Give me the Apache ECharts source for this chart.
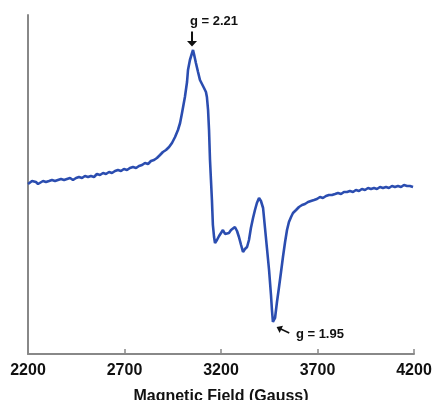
<!DOCTYPE html>
<html>
<head>
<meta charset="utf-8">
<script src="https://cdn.jsdelivr.net/npm/echarts@6/dist/echarts.min.js"></script>
<style>
  html, body { margin: 0; padding: 0; background: #fff; }
  #epr { width: 435px; height: 400px; }
</style>
</head>
<body>
<div id="epr"></div>
<script>
// magnetic field (Gauss) and EPR signal (arbitrary units)
const field = [
  2200, 2210, 2221, 2231, 2241, 2252, 2262, 2278, 2293, 2309, 2324, 2340, 2355, 2371, 2387,
  2402, 2418, 2433, 2449, 2464, 2480, 2495, 2511, 2526, 2542, 2557, 2573, 2589, 2604, 2620,
  2635, 2651, 2666, 2682, 2697, 2713, 2728, 2744, 2760, 2775, 2791, 2806, 2822, 2837, 2853,
  2868, 2884, 2899, 2915, 2931, 2946, 2962, 2977, 2988, 2998, 3013, 3024, 3029, 3039, 3050,
  3055, 3060, 3070, 3081, 3091, 3101, 3112, 3122, 3127, 3133, 3138, 3143, 3148, 3153, 3158,
  3164, 3169, 3179, 3190, 3200, 3210, 3221, 3231, 3241, 3252, 3262, 3272, 3283, 3293, 3304,
  3314, 3324, 3335, 3345, 3355, 3366, 3376, 3386, 3397, 3407, 3418, 3428, 3438, 3449, 3459,
  3464, 3469, 3480, 3490, 3500, 3511, 3521, 3532, 3542, 3552, 3563, 3573, 3589, 3604, 3620,
  3635, 3651, 3666, 3682, 3697, 3713, 3728, 3744, 3759, 3775, 3791, 3806, 3822, 3837, 3853,
  3868, 3884, 3899, 3915, 3930, 3946, 3962, 3977, 3993, 4008, 4024, 4039, 4055, 4070, 4086,
  4101, 4117, 4133, 4148, 4164, 4179, 4195
]
const signal = [
  1, 3, 4, 2, 3, 1, 3, 4, 3, 4, 5, 4, 5, 6, 5,
  6, 7, 5, 7, 8, 7, 9, 8, 9, 8, 11, 10, 12, 11, 13,
  12, 14, 15, 14, 16, 15, 17, 18, 17, 19, 20, 22, 21, 24, 25,
  27, 30, 33, 35, 38, 42, 48, 55, 62, 72, 88, 103, 115, 125, 132,
  135, 131, 122, 113, 105, 103, 97, 93, 88, 75, 55, 25, 5, -15, -40,
  -52, -58, -55, -51, -48, -45, -49, -51, -48, -45, -44, -42, -46, -52, -60,
  -67, -64, -62, -55, -43, -33, -25, -18, -13, -16, -23, -43, -63, -85, -110,
  -125, -137, -133, -117, -103, -87, -72, -57, -45, -37, -32, -28, -25, -22, -20,
  -19, -17, -16, -15, -14, -12, -13, -11, -10, -10, -9, -8, -9, -7, -7,
  -6, -7, -5, -6, -4, -5, -3, -4, -3, -4, -2, -3, -2, -3, -1,
  -2, -1, -2, 0, -1, -1, -2
]
const xTicks = [2200, 4200, 500]
const peakG = [3055, 135]
const troughG = [3469, -137]
const peakLabel = 'g = 2.21'
const troughLabel = 'g = 1.95'

const chart = echarts.init(document.getElementById('epr'))
const arrowPath = 'path://M4,0 L6,0 L6,10 L10,10 L5,16 L0,10 L4,10 Z'

const option = {
  backgroundColor: '#fff',
  animation: false,
  grid: { left: 28, right: 21, top: 15, bottom: 46, outerBoundsMode: 'none', containLabel: false },
  xAxis: {
    type: 'value',
    min: xTicks[0],
    max: xTicks[1],
    interval: xTicks[2],
    name: 'Magnetic Field (Gauss)',
    nameLocation: 'middle',
    nameGap: 35,
    nameTextStyle: { fontFamily: 'Liberation Sans', fontWeight: 'bold', fontSize: 16, color: '#111' },
    axisLine: { onZero: false, lineStyle: { color: '#888', width: 2 } },
    axisTick: { inside: true, length: 5, lineStyle: { color: '#888', width: 1.5 } },
    axisLabel: {
      margin: 9, fontFamily: 'Liberation Sans', fontWeight: 'bold', fontSize: 16, color: '#111',
      formatter: v => String(v)
    },
    splitLine: { show: false }
  },
  yAxis: {
    type: 'value',
    min: -169,
    max: 170,
    axisLine: { show: true, onZero: false, lineStyle: { color: '#888', width: 2 } },
    axisTick: { show: false },
    axisLabel: { show: false },
    splitLine: { show: false }
  },
  series: [{
    type: 'line',
    data: field.map((f, i) => [f, signal[i]]),
    showSymbol: false,
    lineStyle: { color: '#2b4db0', width: 2.6 },
    markPoint: {
      silent: true,
      animation: false,
      data: [
        {
          coord: peakG, symbol: arrowPath, symbolSize: [10, 15], symbolOffset: [-1, -11],
          itemStyle: { color: '#111' }, label: { show: false }
        },
        {
          coord: peakG, symbol: 'circle', symbolSize: 1, itemStyle: { color: 'rgba(0,0,0,0)' },
          label: { show: true, position: 'inside', offset: [21, -29], formatter: peakLabel,
            fontFamily: 'Liberation Sans', fontWeight: 'bold', fontSize: 13, color: '#111' }
        },
        {
          coord: troughG, symbol: arrowPath, symbolSize: [8, 14], symbolRotate: -115, symbolOffset: [10, 8],
          itemStyle: { color: '#111' }, label: { show: false }
        },
        {
          coord: troughG, symbol: 'circle', symbolSize: 1, itemStyle: { color: 'rgba(0,0,0,0)' },
          label: { show: true, position: 'inside', offset: [47, 12], formatter: troughLabel,
            fontFamily: 'Liberation Sans', fontWeight: 'bold', fontSize: 13, color: '#111' }
        }
      ]
    }
  }]
}

chart.setOption(option)
</script>
</body>
</html>
